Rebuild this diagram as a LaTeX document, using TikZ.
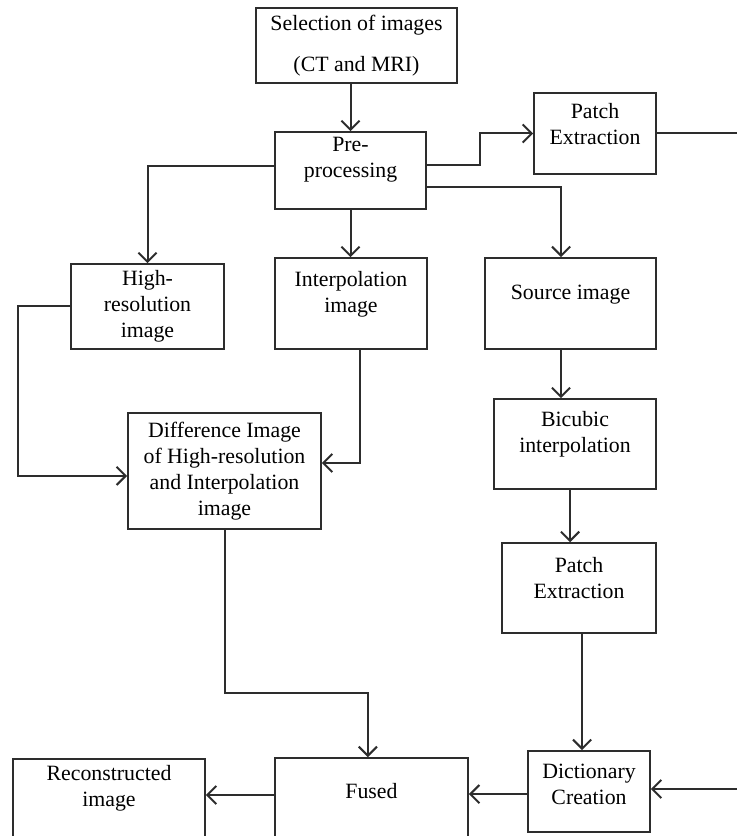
\documentclass[tikz,border=0pt]{standalone}
\usepackage{fontspec}
\setmainfont{Liberation Serif}
\usetikzlibrary{arrows.meta,positioning,calc}
\definecolor{linegray}{RGB}{45,45,45}

\begin{document}
\begin{tikzpicture}[
    x=0.55pt, y=-0.55pt,
    font=\fontsize{12}{14.3}\selectfont,
    box/.style={rectangle, draw=linegray, line width=0.9pt, inner sep=1pt, align=center},
    lift/.style={text depth=#1},
    arrow/.style={-{Straight Barb[length=5pt,width=10pt]}, line width=1.1pt, draw=linegray}
]
\useasboundingbox (0,0) rectangle (736,836);

% Input and pre-processing
\node[box, minimum width=110.6pt, minimum height=41.3pt] (sel) at (356.5,45.5) {Selection of images\\[8.3pt](CT and MRI)};

\node[box, lift=14pt, minimum width=83.1pt, minimum height=42.4pt] (pre) at (350.5,170.5) {Pre-\\processing};

\node[box, lift=11pt, minimum width=67.1pt, minimum height=44.6pt] (patchA) at (595,133.5) {Patch\\Extraction};

% Second row
\node[box, minimum width=84.2pt, minimum height=46.8pt, inner sep=0pt] (hires) at (147.5,306.5) {High-\\resolution\\image};

\node[box, lift=13pt, minimum width=83.6pt, minimum height=50.1pt] (interp) at (351,303.5) {Interpolation\\image};

\node[box, lift=12pt, minimum width=94.1pt, minimum height=50.1pt] (source) at (570.5,303.5) {Source image};

% Difference branch
\node[box, minimum width=106.2pt, minimum height=63.8pt] (diff) at (224.5,471) {Difference Image\\of High-resolution\\and Interpolation\\image};

% Dictionary branch
\node[box, lift=13pt, minimum width=89.1pt, minimum height=49.5pt] (bicubic) at (575,444) {Bicubic\\interpolation};

\node[box, lift=11pt, minimum width=84.7pt, minimum height=49.5pt] (patchB) at (579,588) {Patch\\Extraction};

% Bottom row
\node[box, lift=8pt, minimum width=67.1pt, minimum height=44.6pt] (dict) at (589,791.5) {Dictionary\\Creation};

\node[box, lift=11pt, minimum width=106.2pt, minimum height=46.8pt] (fused) at (371.5,800.5) {Fused};

\node[box, lift=17pt, minimum width=105.6pt, minimum height=46.8pt] (recon) at (109,801.5) {Reconstructed\\image};

% Free ends at the right edge
\coordinate (outA) at (737,133.5);
\coordinate (outB) at (737,789);

% Arrows
\draw[arrow] (pre.north |- sel.south) -- (pre.north);
\draw[arrow] ([yshift=3pt]pre.east) -- ++(53,0) |- (patchA.west);
\draw[line width=1.1pt, draw=linegray] (patchA.east) -- (outA);
\draw[arrow] ([yshift=2.5pt]pre.west) -| (hires.north);
\draw[arrow] (pre.south) -- (pre.south |- interp.north);
\draw[arrow] ([yshift=-9pt]pre.east) -| ([xshift=-5.2pt]source.north);
\draw[arrow] ([xshift=-5.2pt]source.south) -- ([xshift=-5.2pt]source.south |- bicubic.north);
\draw[arrow] ([xshift=-2.7pt]bicubic.south) -- ([xshift=-2.7pt]bicubic.south |- patchB.north);
\draw[arrow] ([xshift=1.7pt]patchB.south) -- ([xshift=1.7pt]patchB.south |- dict.north);
\draw[arrow] (hires.west) -- ++(-52,0) |- ([yshift=-2.7pt]diff.west);
\draw[arrow] ([xshift=5pt]interp.south) |- ([yshift=4.4pt]diff.east);
\draw[arrow] (diff.south) -- ++(0,163) -| ([xshift=-2pt]fused.north);
\draw[arrow] (outB) -- (outB -| dict.east);
\draw[arrow] ([yshift=-1.4pt]dict.west) -- ([yshift=-1.4pt]dict.west -| fused.east);
\draw[arrow] ([yshift=3pt]fused.west) -- ([yshift=3pt]fused.west -| recon.east);

\end{tikzpicture}
\end{document}
